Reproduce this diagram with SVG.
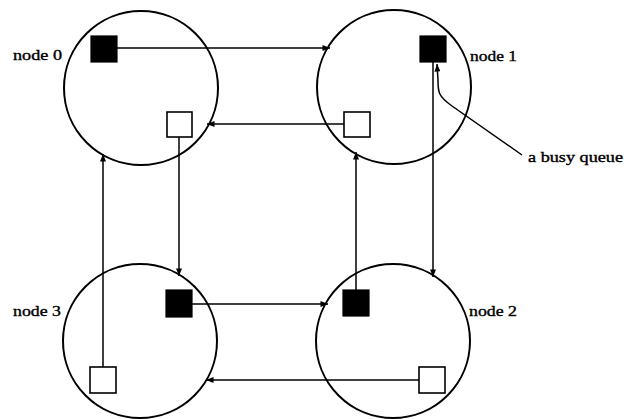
<svg xmlns="http://www.w3.org/2000/svg" width="629" height="419" viewBox="0 0 629 419">
<defs>
<marker id="ah" viewBox="0 0 10 8" refX="10" refY="4" markerWidth="8" markerHeight="6" markerUnits="userSpaceOnUse" orient="auto">
<path d="M0,0 L10,4 L0,8 Z" fill="#000"/>
</marker>
<style>
.ring{fill:none;stroke:#000;stroke-width:2}
.busy{fill:#000;stroke:#000;stroke-width:1.2}
.idle{fill:#fff;stroke:#000;stroke-width:1.6}
.lbl{font-family:"Liberation Serif","Times New Roman",serif;font-size:14px;fill:#000;stroke:#000;stroke-width:0.35}
.con{fill:none;stroke:#000;stroke-width:1.5;marker-end:url(#ah)}
</style>
</defs>
<rect width="629" height="419" fill="#fff"/>
<g id="connectors">
<line class="con" x1="117" y1="48" x2="330" y2="48"/>
<line class="con" x1="344" y1="124" x2="207" y2="124"/>
<line class="con" x1="179" y1="137" x2="179" y2="276"/>
<line class="con" x1="103" y1="367" x2="103" y2="154"/>
<line class="con" x1="192" y1="304" x2="328" y2="304"/>
<line class="con" x1="419" y1="380" x2="206" y2="380"/>
<line class="con" x1="356" y1="290" x2="356" y2="152"/>
<line class="con" x1="433" y1="62" x2="433" y2="277"/>
<path class="con" d="M522,155 L452,106 C438,96 438,92 438,80 L437,64"/>
</g>
<g id="node0">
<circle class="ring" cx="141" cy="88" r="77"/>
<rect class="busy" x="91" y="36" width="26" height="26"/>
<rect class="idle" x="167" y="112" width="25" height="25"/>
<text class="lbl" x="13" y="60" textLength="49" lengthAdjust="spacingAndGlyphs">node 0</text>
</g>
<g id="node1">
<circle class="ring" cx="394" cy="87" r="77"/>
<rect class="busy" x="420" y="36" width="26" height="26"/>
<rect class="idle" x="344" y="112" width="26" height="25"/>
<text class="lbl" x="470" y="61" textLength="47" lengthAdjust="spacingAndGlyphs">node 1</text>
</g>
<g id="node2">
<circle class="ring" cx="393" cy="341" r="77"/>
<rect class="busy" x="343" y="290" width="26" height="26"/>
<rect class="idle" x="419" y="367" width="26" height="26"/>
<text class="lbl" x="469" y="316" textLength="48" lengthAdjust="spacingAndGlyphs">node 2</text>
</g>
<g id="node3">
<circle class="ring" cx="140" cy="341" r="77"/>
<rect class="busy" x="166" y="290" width="26" height="27"/>
<rect class="idle" x="90" y="367" width="26" height="26"/>
<text class="lbl" x="13" y="316" textLength="48" lengthAdjust="spacingAndGlyphs">node 3</text>
</g>
<g id="annotation">
<text class="lbl" x="528" y="162" textLength="95" lengthAdjust="spacingAndGlyphs">a busy queue</text>
</g>
</svg>
